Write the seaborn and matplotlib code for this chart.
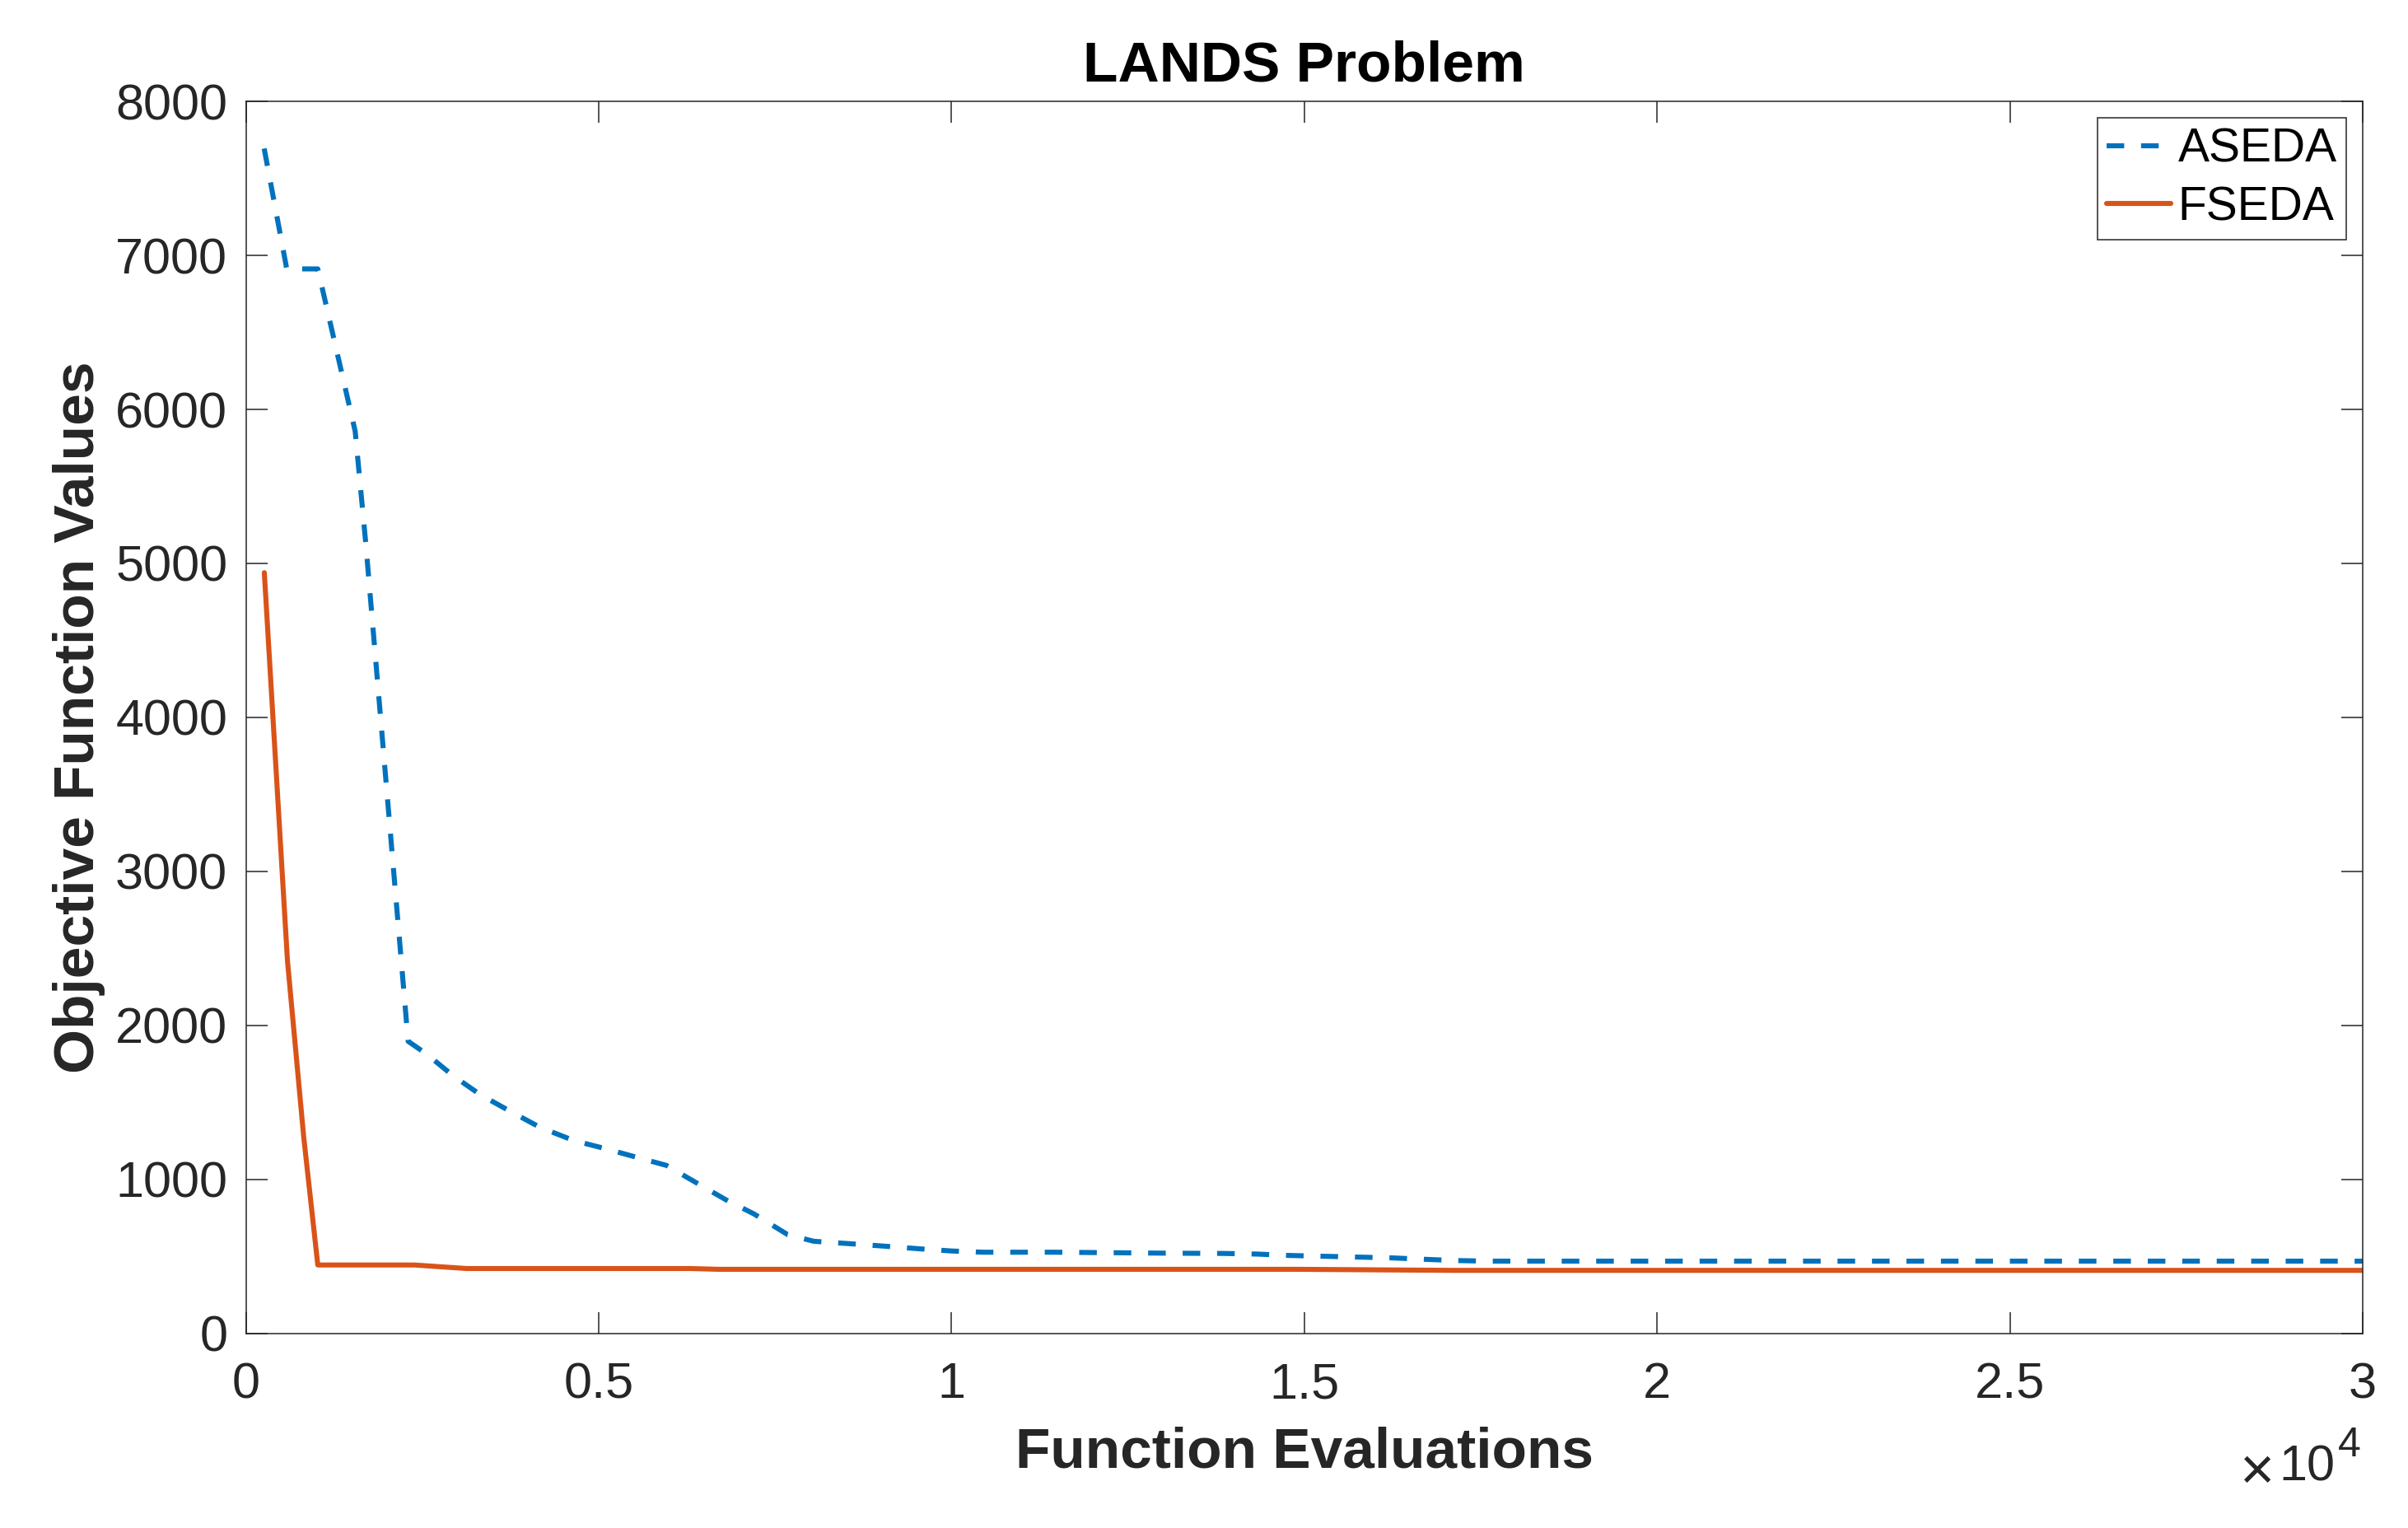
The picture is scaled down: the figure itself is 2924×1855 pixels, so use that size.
import numpy as np
import pandas as pd
import matplotlib
matplotlib.use("Agg")
import matplotlib.pyplot as plt
from matplotlib.ticker import FuncFormatter
import seaborn as sns

# ---------------- data ----------------
aseda_x = [260, 580, 1020, 1550, 1700, 2300, 2560, 2930, 3320, 3740, 4170, 4650,
           5100, 5520, 5960, 6370, 6810, 7200, 7680, 8050, 8570, 9060, 9550, 10000,
           10450, 11450, 12970, 13850, 14330, 14780, 15340, 16250, 16700, 17150,
           17590, 30000]
aseda_y = [7695, 6913, 6913, 5858, 5130, 1896, 1814, 1675, 1550, 1443, 1337, 1251,
           1198, 1145, 1090, 981, 865, 775, 640, 597, 581, 565, 548, 534,
           526, 526, 520, 518, 514, 505, 499, 489, 480, 472,
           468, 468]

fseda_x = [262, 590, 820, 1020, 2390, 3130, 6300, 6700, 14900, 17150, 30000]
fseda_y = [4940, 2420, 1276, 443, 443, 420, 420, 415, 415, 408, 408]

x_ticks = [0, 5000, 10000, 15000, 20000, 25000, 30000]
y_ticks = [0, 1000, 2000, 3000, 4000, 5000, 6000, 7000, 8000]

title_text = "LANDS Problem"
x_label = "Function Evaluations"
y_label = "Objective Function Values"
series_names = ["ASEDA", "FSEDA"]

# ---------------- style ----------------
sns.set_style("ticks")
plt.rcParams['font.family'] = ['Liberation Sans', 'DejaVu Sans']
plt.rcParams['axes.linewidth'] = 0.55

GRAY = "#262626"
BLUE = "#0072BD"
ORANGE = "#D95319"

W, H, DPI = 2924, 1855, 200
fig = plt.figure(figsize=(W / DPI, H / DPI), dpi=DPI)
ax_l, ax_r, ax_t, ax_b = 298.5, 2869, 123.3, 1618.5
ax = fig.add_axes([ax_l / W, 1 - ax_b / H, (ax_r - ax_l) / W, (ax_b - ax_t) / H])

df_a = pd.DataFrame({"x": aseda_x, "y": aseda_y})
df_f = pd.DataFrame({"x": fseda_x, "y": fseda_y})

LW = 2.2
sns.lineplot(data=df_a, x="x", y="y", ax=ax, color=BLUE, linewidth=LW,
             linestyle=(0, (3.5, 3.35)), label=series_names[0],
             estimator=None, sort=False)
sns.lineplot(data=df_f, x="x", y="y", ax=ax, color=ORANGE, linewidth=LW,
             linestyle="-", label=series_names[1], estimator=None, sort=False)

ax.set_xlim(0, 30000)
ax.set_ylim(0, 8000)
ax.set_xticks(x_ticks)
ax.set_yticks(y_ticks)
ax.xaxis.set_major_formatter(FuncFormatter(lambda v, p: f"{v / 1e4:g}"))
ax.yaxis.set_major_formatter(FuncFormatter(lambda v, p: f"{v:g}"))

for s in ax.spines.values():
    s.set_visible(True)
    s.set_color(GRAY)
    s.set_linewidth(0.55)

ax.tick_params(axis='both', which='major', direction='in', length=9.25,
               width=0.55, color=GRAY, labelcolor=GRAY, labelsize=22,
               top=True, right=True)
ax.tick_params(axis='y', pad=8)
ax.tick_params(axis='x', pad=12.5)

ax.set_title(title_text, fontsize=25, fontweight='bold', color='black', pad=9)
ax.set_xlabel(x_label, fontsize=25, fontweight='bold', color=GRAY)
ax.set_ylabel(y_label, fontsize=25, fontweight='bold', color=GRAY)
ax.xaxis.set_label_coords(0.5, -0.0759)
ax.yaxis.set_label_coords(-0.0663, 0.5)

leg = ax.legend(loc='upper right', fontsize=20.5, frameon=True, fancybox=False,
                framealpha=1, edgecolor=GRAY, handlelength=1.37,
                handletextpad=0.15, borderpad=0.2, labelspacing=0.29,
                borderaxespad=0.35)
leg.get_frame().set_linewidth(0.55)
for t in leg.get_texts():
    t.set_color('black')

# x-axis exponent label (x10^4)
fig.text(2720 / W, 1 - 1808 / H, "\u00d7", fontsize=26, color=GRAY,
         ha='left', va='baseline')
fig.text(2835 / W, 1 - 1798 / H, "10", fontsize=22, color=GRAY,
         ha='right', va='baseline')
fig.text(2839 / W, 1 - 1768 / H, "4", fontsize=18, color=GRAY,
         ha='left', va='baseline')

fig.savefig("out.png", dpi=DPI, facecolor='white')
